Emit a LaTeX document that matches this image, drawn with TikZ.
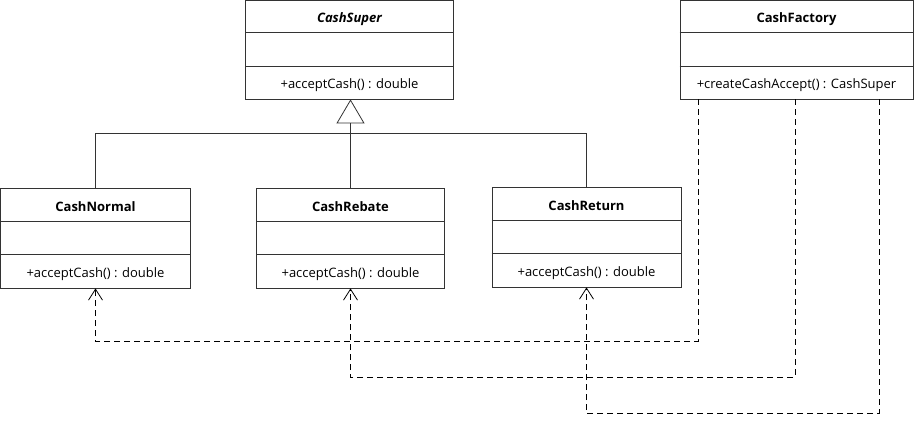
\documentclass[tikz,border=0pt]{standalone}
\usepackage{fontspec}
\setmainfont{Open Sans}
\usetikzlibrary{arrows.meta,calc}
\begin{document}
\begin{tikzpicture}[x=1pt,y=1pt,
  cls/.style n args={2}{draw=black!80, line width=0.8pt, rectangle, inner sep=0pt, minimum width=#1, minimum height=#2},
  cname/.style={font=\fontsize{13}{15}\selectfont\bfseries, yshift=-2.5pt},
  meth/.style={font=\fontsize{13}{15}\selectfont, yshift=-2.5pt},
  gen/.style={draw=black!80, line width=0.9pt},
  dep/.style={draw=black, line width=0.9pt, dash pattern=on 6pt off 4pt, -{Straight Barb[length=11pt,width=14pt,line width=0.8pt]}}
]
\useasboundingbox (0,0) rectangle (917,-422);

% boxes
\node[cls={208}{99}] (cs) at (349.5,-49.5) {};
\node[cls={233}{99}] (cf) at (796.5,-49.5) {};
\node[cls={190}{100}] (cn) at (95.5,-238) {};
\node[cls={188}{100}] (cb) at (350.5,-238) {};
\node[cls={189}{100}] (cr) at (586.5,-237) {};

\foreach \b in {cs,cf,cn,cb,cr}{
  \draw[black!80, line width=0.8pt] ($(\b.north west)!1/3!(\b.south west)$) -- ($(\b.north east)!1/3!(\b.south east)$);
  \draw[black!80, line width=0.8pt] ($(\b.north west)!2/3!(\b.south west)$) -- ($(\b.north east)!2/3!(\b.south east)$);
}

% texts
\node[cname] (tcs) at ($(cs.north)!1/6!(cs.south)$) {\itshape CashSuper};
\node[meth] (mcs) at ($(cs.north)!5/6!(cs.south)$) {+acceptCash() : double};
\node[cname] (tcf) at ($(cf.north)!1/6!(cf.south)$) {CashFactory};
\node[meth] (mcf) at ($(cf.north)!5/6!(cf.south)$) {+createCashAccept() : CashSuper};
\node[cname] (tcn) at ($(cn.north)!1/6!(cn.south)$) {CashNormal};
\node[meth] (mcn) at ($(cn.north)!5/6!(cn.south)$) {+acceptCash() : double};
\node[cname] (tcb) at ($(cb.north)!1/6!(cb.south)$) {CashRebate};
\node[meth] (mcb) at ($(cb.north)!5/6!(cb.south)$) {+acceptCash() : double};
\node[cname] (tcr) at ($(cr.north)!1/6!(cr.south)$) {CashReturn};
\node[meth] (mcr) at ($(cr.north)!5/6!(cr.south)$) {+acceptCash() : double};

% generalization
\coordinate (j) at (350.5,-133.5);
\draw[gen] (cn.north) |- (j) -| (cr.north);
\draw[gen, -{Triangle[open, length=24pt, width=28pt, line width=0.8pt]}] (cb.north) -- (cb.north |- cs.south);

% dependencies
\coordinate (f1) at ([xshift=18.5pt]cf.south west);
\coordinate (f2) at ([xshift=115.5pt]cf.south west);
\coordinate (f3) at ([xshift=199.5pt]cf.south west);
\draw[dep] (f1) -- ++(0,-242) -| (cn.south);
\draw[dep] (f2) -- ++(0,-278) -| (cb.south);
\draw[dep] (f3) -- ++(0,-314) -| (cr.south);
\end{tikzpicture}
\end{document}
